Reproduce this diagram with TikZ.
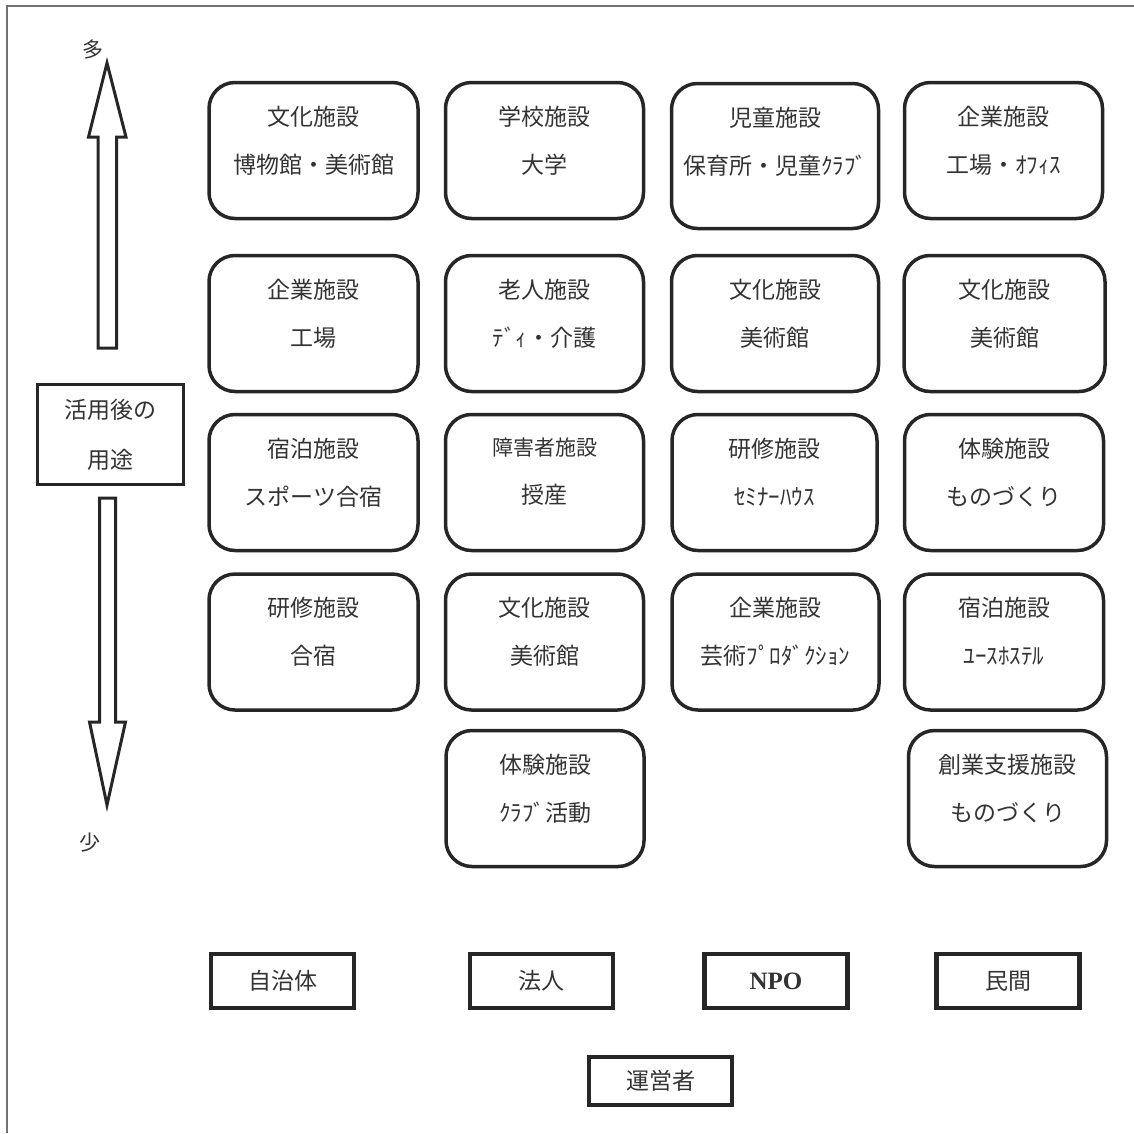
\documentclass[tikz,border=0pt]{standalone}
\usepackage{fontspec}
\setmainfont{Noto Sans CJK JP}
\newfontfamily\latinserif{Liberation Serif}
\usepackage{tikz}

\begin{document}
\begin{tikzpicture}[
    x=1pt, y=-1pt,
    fac/.style={rectangle, rounded corners=26pt, draw=black!85, line width=3.5pt, minimum width=198pt, minimum height=136pt, label={[faclbl]north:#1}},
    faclbl/.style={anchor=north, yshift=-25pt, inner sep=0pt, align=center, font=\fontsize{23}{48}\selectfont, text=black!80},
    owner/.style={rectangle, draw=black!85, line width=4.5pt, minimum width=143pt, minimum height=54pt, font=\fontsize{23}{28}\selectfont, text=black!80},
    axisbox/.style={rectangle, draw=black!85, line width=3.5pt, minimum width=146pt, minimum height=100pt, align=center, font=\fontsize{23}{50}\selectfont, text=black!80},
    bigarrow/.style={draw=black!85, line width=3pt, line join=miter},
    axislbl/.style={font=\fontsize{21}{24}\selectfont, text=black!80}
]
\useasboundingbox (0,0) rectangle (1134,1133);
\draw[black!55, line width=1.5pt] (7,1133) -- (7,6) -- (1134,6);

% axis on the left
\node[axislbl] (more) at (93,50) {多};
\node[axislbl] (less) at (90,843) {少};
\node[axisbox] (use) at (110.5,434.5) {活用後の\\用途};
\draw[bigarrow] (107,63) -- (126,137) -- (116.5,137) -- (116.5,348) -- (98,348) -- (98,137) -- (88.5,137) -- cycle;
\draw[bigarrow] (107,805) -- (125.5,722) -- (115.5,722) -- (115.5,498) -- (99.5,498) -- (99.5,722) -- (89.5,722) -- cycle;

% row 1
\node[fac={文化施設\\博物館・美術館}, minimum width=209pt] (museum) at (313.5,150.5) {};
\node[fac={学校施設\\大学}] (school) at (544.5,150.5) {};
\node[fac={児童施設\\保育所・児童ｸﾗﾌﾞ}, minimum width=207pt, minimum height=145pt] (child) at (775,156) {};
\node[fac={企業施設\\工場・ｵﾌｨｽ}] (office) at (1003.5,150.5) {};

% row 2
\node[fac={企業施設\\工場}, minimum width=209pt] (factory) at (313.5,323.5) {};
\node[fac={老人施設\\ﾃﾞｨ・介護}] (elderly) at (544.5,323.5) {};
\node[fac={文化施設\\美術館}, minimum width=207pt] (artB) at (775,323.5) {};
\node[fac={文化施設\\美術館}, minimum width=201pt] (artC) at (1004.5,323.5) {};

% row 3
\node[fac={宿泊施設\\スポーツ合宿}, minimum width=209pt] (lodging) at (313.5,482.5) {};
\node[fac={\fontsize{21}{48}\selectfont 障害者施設\\授産}] (disabled) at (544.5,482.5) {};
\node[fac={研修施設\\ｾﾐﾅｰﾊｳｽ}, minimum width=205pt] (seminar) at (774.5,482.5) {};
\node[fac={体験施設\\ものづくり}, minimum width=199pt] (craft) at (1004,482.5) {};

% row 4
\node[fac={研修施設\\合宿}, minimum width=209pt] (training) at (313.5,642) {};
\node[fac={文化施設\\美術館}] (artD) at (544.5,642) {};
\node[fac={企業施設\\芸術ﾌﾟﾛﾀﾞｸｼｮﾝ}, minimum width=207pt] (production) at (775.5,642) {};
\node[fac={宿泊施設\\ﾕｰｽﾎｽﾃﾙ}, minimum width=199pt] (hostel) at (1004,642) {};

% row 5
\node[fac={体験施設\\ｸﾗﾌﾞ活動}] (club) at (545,798.5) {};
\node[fac={創業支援施設\\ものづくり}] (startup) at (1007.5,798.5) {};

% operators
\node[owner] (city) at (282.5,981) {自治体};
\node[owner] (corp) at (541.5,981) {法人};
\node[owner] (npo) at (776,981) {\latinserif\fontsize{25}{28}\selectfont\bfseries NPO};
\node[owner] (private) at (1008,981) {民間};
\node[owner, minimum height=48pt] (operator) at (660.5,1081) {運営者};
\end{tikzpicture}
\end{document}
